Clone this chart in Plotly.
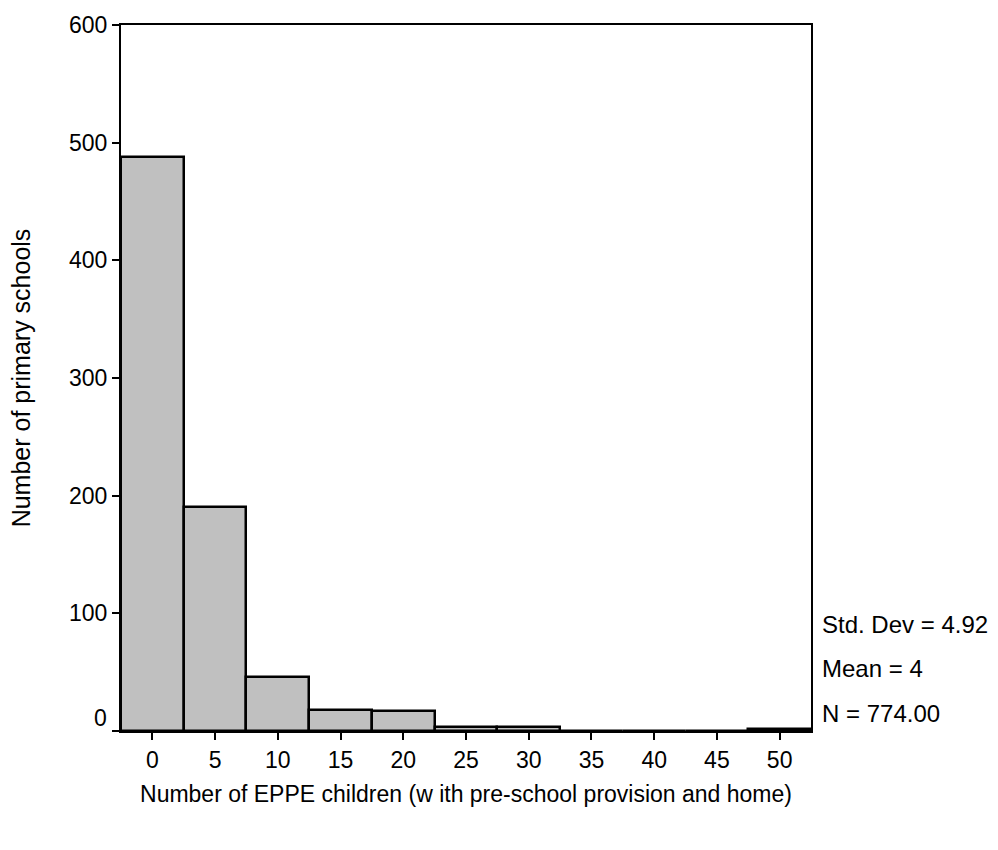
import plotly.graph_objects as go

# Histogram of EPPE children per primary school (bin width 5)
bin_centers = [0, 5, 10, 15, 20, 25, 30, 35, 40, 45, 50]
school_counts = [488, 190, 46, 18, 17, 3, 3, 0, 0, 0, 2]
x_ticks = [0, 5, 10, 15, 20, 25, 30, 35, 40, 45, 50]
y_ticks = [0, 100, 200, 300, 400, 500, 600]
stats_lines = ["Std. Dev = 4.92", "Mean = 4", "N = 774.00"]

FONT = "Liberation Sans, Arial, sans-serif"
TICK_FS = 23

fig = go.Figure()
fig.add_trace(go.Bar(
    x=bin_centers,
    y=school_counts,
    width=5,
    marker=dict(color="#c0c0c0", line=dict(color="black", width=2.5)),
    hoverinfo="x+y",
))

fig.update_layout(
    width=998,
    height=850,
    margin=dict(l=121, r=187, t=15, b=119),
    paper_bgcolor="white",
    plot_bgcolor="white",
    showlegend=False,
    font=dict(family=FONT, size=TICK_FS, color="black"),
    bargap=0,
)

fig.update_xaxes(
    range=[-2.5, 52.5],
    tickvals=x_ticks,
    ticktext=[str(v) for v in x_ticks],
    tickfont=dict(family=FONT, size=TICK_FS),
    ticks="outside",
    ticklen=7,
    tickwidth=2,
    tickcolor="black",
    showline=True,
    linecolor="black",
    linewidth=2,
    mirror=True,
    showgrid=False,
    zeroline=False,
    title=dict(text="Number of EPPE children (w ith pre-school provision and home)",
               standoff=14, font=dict(family=FONT, size=23)),
)

fig.update_yaxes(
    range=[0, 600],
    tickvals=y_ticks,
    ticktext=["" if v == 0 else str(v) for v in y_ticks],
    tickfont=dict(family=FONT, size=TICK_FS),
    ticks="outside",
    ticklen=7,
    tickwidth=2,
    tickcolor="black",
    showline=True,
    linecolor="black",
    linewidth=2,
    mirror=True,
    showgrid=False,
    zeroline=False,
    title=dict(text="Number of primary schools", standoff=31,
               font=dict(family=FONT, size=25)),
)

annotations = [
    # zero label sits slightly above the baseline
    dict(x=0, y=0, xref="paper", yref="y", text="0", showarrow=False,
         xanchor="right", yanchor="middle", xshift=-12, yshift=13,
         font=dict(family=FONT, size=TICK_FS)),
]
for i, line in enumerate(stats_lines):
    annotations.append(dict(
        x=1, y=0, xref="paper", yref="paper", text=line, showarrow=False,
        xanchor="left", yanchor="middle", xshift=9,
        yshift=107 - 44.5 * i,
        font=dict(family=FONT, size=24),
    ))
fig.update_layout(annotations=annotations)

fig.write_html("out.html")
